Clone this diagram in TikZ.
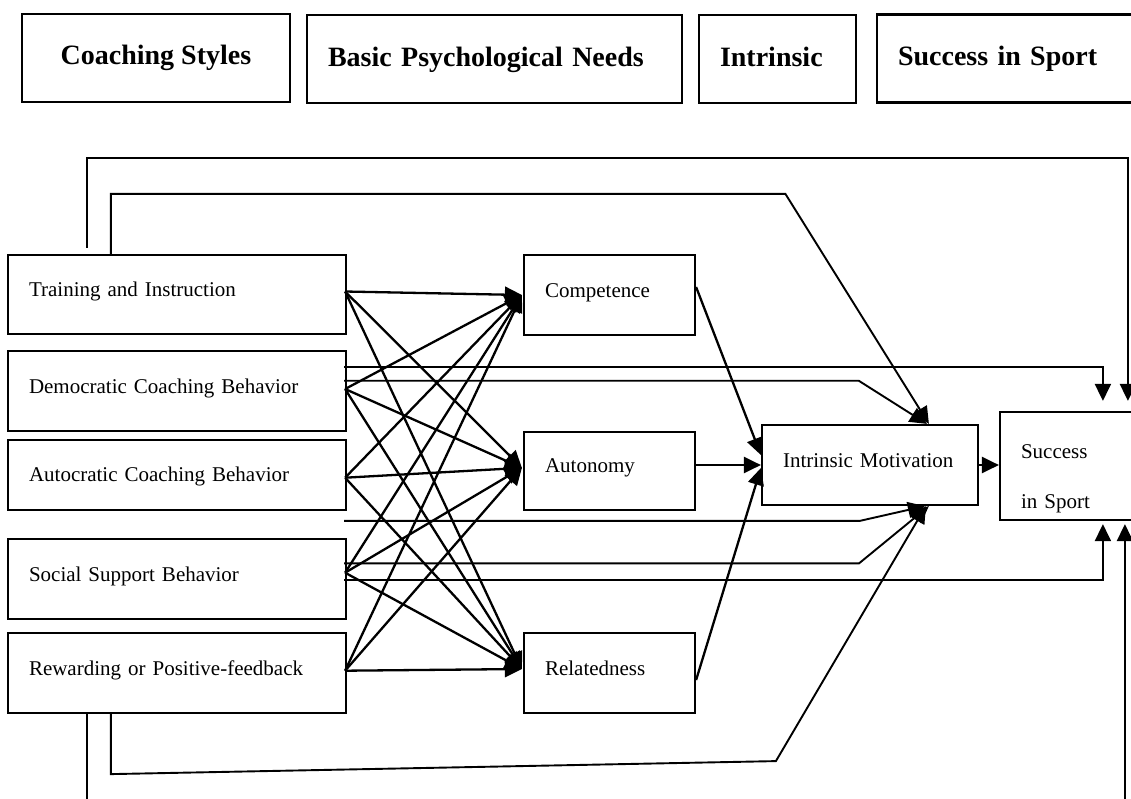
\documentclass[tikz,border=0pt]{standalone}
\usepackage{fontspec}
\setmainfont{Liberation Serif}
\usetikzlibrary{arrows.meta}

\begin{document}
\begin{tikzpicture}[x=1pt,y=-1pt]
    % Style definitions
    \tikzset{
        head/.style={draw, line width=2.2pt, minimum height=88pt, inner ysep=0pt, text height=20pt, text depth=6pt, font=\bfseries\fontsize{28}{34}\selectfont},
        box/.style={draw, line width=2.2pt, inner xsep=21pt, inner ysep=0pt, align=left, text height=14pt, text depth=10pt, font=\fontsize{21}{25}\selectfont},
        link/.style={line width=2.3pt, -{Triangle[length=17pt,width=16pt]}},
        route/.style={line width=1.9pt, -{Triangle[length=17pt,width=16pt]}}
    }
    \useasboundingbox (0,0) rectangle (1131,798);

    % ==========================================
    % HEADER ROW
    % ==========================================
    \node[head, minimum width=268.3pt] (hcs) at (155.9,57.9) {Coaching Styles};
    \node[head, text width=332.7pt, inner xsep=21pt, align=left] (hbpn) at (494.4,59) {Basic Psychological Needs};
    \node[head, text width=115pt, inner xsep=21pt, align=left] (hint) at (777.5,59) {Intrinsic};
    \node[head, text width=241pt, inner xsep=21pt, align=left] (hsis) at (1018.5,58.5) {Success in Sport};

    % ==========================================
    % BOXES
    % ==========================================
    % Coaching styles:
    \node[box, text width=296pt, minimum height=79pt] (tr) at (177,294.5) {Training and Instruction};
    \node[box, text width=296pt, minimum height=80pt] (dem) at (177,391) {Democratic Coaching Behavior};
    \node[box, text width=296pt, minimum height=70pt, text depth=0.6pt] (aut) at (177,475) {Autocratic Coaching Behavior};
    \node[box, text width=296pt, minimum height=80pt] (soc) at (177,579) {Social Support Behavior};
    \node[box, text width=296pt, minimum height=80pt] (rew) at (177,673) {Rewarding or Positive-feedback};

    % Needs, motivation and outcome:
    \node[box, text width=129pt, minimum height=80pt] (comp) at (609.5,295) {Competence};
    \node[box, text width=129pt, minimum height=78.3pt] (auto) at (609.5,470.85) {Autonomy};
    \node[box, text width=129pt, minimum height=80pt] (rel) at (609.5,673) {Relatedness};
    \node[box, text width=174pt, minimum height=80pt] (im) at (870,465) {Intrinsic Motivation};
    \node[box, text width=118pt, minimum height=108pt, text height=38pt, text depth=54pt, font=\fontsize{21}{50}\selectfont] (suc) at (1080,466) {Success\\in Sport};

    % ==========================================
    % STYLES -> NEEDS
    % ==========================================
    \coordinate (trs) at ([xshift=-2pt,yshift=3pt]tr.east);
    \coordinate (dems) at ([xshift=-2pt,yshift=2pt]dem.east);
    \coordinate (auts) at ([xshift=-2pt,yshift=-2.7pt]aut.east);
    \coordinate (socs) at ([xshift=-2pt,yshift=6.3pt]soc.east);
    \coordinate (rews) at ([xshift=-2pt,yshift=2.3pt]rew.east);
    \coordinate (compt) at ([xshift=-1pt]comp.west);
    \coordinate (autot) at ([xshift=-1pt,yshift=3pt]auto.west);
    \coordinate (relt) at ([xshift=-1pt,yshift=4pt]rel.west);
    \foreach \s in {trs,dems,auts,socs,rews}
        \foreach \t in {compt,autot,relt}
            \draw[link] (\s) -- (\t);

    % Needs -> motivation -> success
    \draw[link] ([yshift=8pt]comp.east) -- ([yshift=10pt]im.west);
    \draw[link] (auto.east |- im.west) -- (im.west);
    \draw[link] ([yshift=-7pt]rel.east) -- ([yshift=-3pt]im.west);
    \draw[link] (im.east) -- (im.east -| suc.west);

    % ==========================================
    % DIRECT PATHS
    % ==========================================
    \draw[route] ([xshift=80pt,yshift=6pt]tr.north west) -- ++(0,-90) -| ([xshift=129pt,yshift=10pt]suc.north west);
    \draw[route] ([xshift=104pt]tr.north west) -- ++(0,-60) -- ++(674.5,0) -- ([xshift=168pt]im.north west);
    \draw[route] ([xshift=-3pt,yshift=23.7pt]dem.east) -| ([xshift=104pt,yshift=10pt]suc.north west);
    \draw[route] ([xshift=-3pt,yshift=10.3pt]dem.east) -- ++(514.6,0) -- ([xshift=166pt]im.north west);
    \draw[route] ([xshift=-3pt,yshift=-9.8pt]aut.south east) -- ++(515.6,0) -- ([xshift=164pt]im.south west);
    \draw[route] ([xshift=-3pt,yshift=15.7pt]soc.east) -- ++(515,0) -- ([xshift=168pt]im.south west);
    \draw[route] ([xshift=-3pt,yshift=-1pt]soc.east) -| ([xshift=104pt,yshift=-3pt]suc.south west);
    \draw[route] ([xshift=104pt]rew.south west) -- ++(0,60) -- ++(665,-13) -- ([xshift=165pt]im.south west);
    \draw[route] ([xshift=80pt]rew.south west) -- ++(0,110) -| ([xshift=126pt,yshift=-3pt]suc.south west);
\end{tikzpicture}
\end{document}
